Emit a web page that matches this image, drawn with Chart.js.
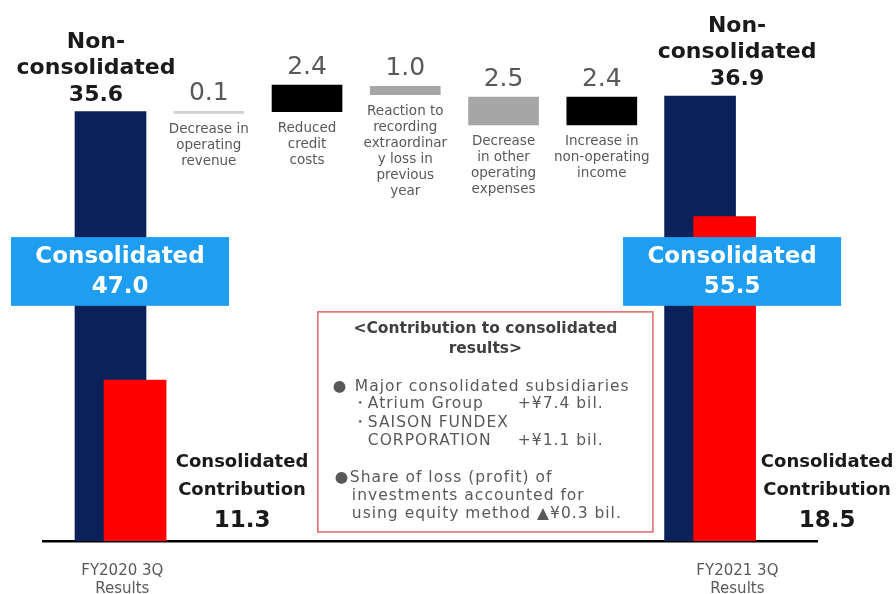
<!DOCTYPE html>
<html>
<head>
<meta charset="utf-8">
<script src="https://cdn.jsdelivr.net/npm/chart.js@4.4.1/dist/chart.umd.min.js"></script>
<style>
  html, body { margin: 0; padding: 0; background: #fff; }
</style>
</head>
<body>
<canvas id="cWf" width="896" height="594"></canvas>
<script>
/* ordinary income bridge, FY2020 3Q -> FY2021 3Q (bil. yen) */

var periods = [["FY2020 3Q", "Results"], ["FY2021 3Q", "Results"]];
var periodIndex = [0, 6];
var nonConsolidated = [35.6, 36.9];
var consolidated = [47.0, 55.5];
var contribution = [11.3, 18.5];
// red bars are schematic in the source, heights as drawn there
var contributionBar = [13.35, 26.9];

var stepValues = ["0.1", "2.4", "1.0", "2.5", "2.4"];
var stepRanges = [[35.45, 35.62], [35.6, 37.8], [37.0, 37.7], [34.5, 36.8], [34.5, 36.8]];
var stepKinds = ["small", "up", "down", "down", "up"];
var stepDesc = [
  ["Decrease in", "operating", "revenue"],
  ["Reduced", "credit", "costs"],
  ["Reaction to", "recording", "extraordinar", "y loss in", "previous", "year"],
  ["Decrease", "in other", "operating", "expenses"],
  ["Increase in", "non-operating", "income"]
];

var noteTitle = ["<Contribution to consolidated", "results>"];
var noteSubs = [["Atrium Group", "+¥7.4 bil."], ["SAISON FUNDEX", ""], ["CORPORATION", "+¥1.1 bil."]];

var KIND_COLOR = { small: "#d0d0d0", up: "#000000", down: "#a6a6a6" };
var NAVY = "#0b2159", RED = "#ff0000", SKY = "#1e9df1";

var notes = {
  id: "notes",
  afterDatasetsDraw: function(ch) {
    var c = ch.ctx, xs = ch.scales.x, ys = ch.scales.y;
    var base = ys.getPixelForValue(0);
    c.save();
    c.textAlign = "center";
    c.textBaseline = "alphabetic";

    // step values + descriptions
    stepRanges.forEach(function(r, i) {
      var x = xs.getPixelForValue(i + 1);
      var top = ys.getPixelForValue(r[1]), bot = ys.getPixelForValue(r[0]);
      c.fillStyle = "#595959";
      c.font = "25px 'DejaVu Sans'";
      c.fillText(stepValues[i], x, top - 11);
      c.font = "13.5px 'DejaVu Sans'";
      stepDesc[i].forEach(function(t, k) { c.fillText(t, x, bot + 20 + k * 16); });
    });

    // non-consolidated headers
    var hOff = [-14.5, 37];
    c.fillStyle = "#1a1a1a";
    c.font = "bold 22px 'DejaVu Sans'";
    nonConsolidated.forEach(function(v, i) {
      var x = xs.getPixelForValue(periodIndex[i]) + hOff[i];
      var y = ys.getPixelForValue(v) - 11;
      c.fillText("Non-", x, y - 53);
      c.fillText("consolidated", x, y - 26.5);
      c.fillText(v.toFixed(1), x, y);
    });

    // consolidated boxes
    var bOff = [9.5, 32];
    consolidated.forEach(function(v, i) {
      var cx = xs.getPixelForValue(periodIndex[i]) + bOff[i];
      var t = ys.getPixelForValue(25.2), b = ys.getPixelForValue(19.5);
      c.fillStyle = SKY;
      c.fillRect(cx - 109, t, 218, b - t);
      c.fillStyle = "#fff";
      c.font = "bold 23px 'DejaVu Sans'";
      c.fillText("Consolidated", cx, t + 26);
      c.fillText(v.toFixed(1), cx, t + 56);
    });

    // contribution labels
    var cOff = [131.5, 127];
    contribution.forEach(function(v, i) {
      var cx = xs.getPixelForValue(periodIndex[i]) + cOff[i];
      c.fillStyle = "#1a1a1a";
      c.font = "bold 18px 'DejaVu Sans'";
      c.fillText("Consolidated", cx, base - 74);
      c.fillText("Contribution", cx, base - 46);
      c.font = "bold 23px 'DejaVu Sans'";
      c.fillText(v.toFixed(1), cx, base - 14);
    });

    // note box
    var L = xs.getPixelForValue(2.11), R = xs.getPixelForValue(5.52);
    var T = ys.getPixelForValue(19.0), B = ys.getPixelForValue(0.75);
    c.strokeStyle = "#e06666";
    c.lineWidth = 1.5;
    c.strokeRect(L, T, R - L, B - T);
    c.fillStyle = "#404040";
    c.font = "bold 15.5px 'DejaVu Sans'";
    c.fillText(noteTitle[0], (L + R) / 2, T + 21);
    c.fillText(noteTitle[1], (L + R) / 2, T + 41);

    c.textAlign = "left";
    c.fillStyle = "#595959";
    c.font = "15.5px 'DejaVu Sans'";
    try { c.letterSpacing = "1px"; } catch (e) {}
    c.fillText("●", L + 15, T + 79);
    c.fillText("Major consolidated subsidiaries", L + 37, T + 79);
    var sy = [96, 115, 133];
    noteSubs.forEach(function(s, k) {
      if (k !== 2) c.fillText("・", L + 34, T + sy[k]);
      c.fillText(s[0], L + 50, T + sy[k]);
      if (s[1]) c.fillText(s[1], L + 200, T + sy[k]);
    });
    c.fillText("●", L + 17, T + 170);
    c.fillText("Share of loss (profit) of", L + 32, T + 170);
    c.fillText("investments accounted for", L + 34, T + 188);
    c.fillText("using equity method ▲¥0.3 bil.", L + 34, T + 206);
    c.restore();
  }
};

var ctx = document.getElementById("cWf");
var chart = new Chart(ctx, {
  type: "bar",
  data: {
    datasets: [{
      label: "Consolidated contribution",
      data: contributionBar.map(function(v, i) { return { x: periodIndex[i] + 0.25, y: v }; }),
      backgroundColor: RED,
      barThickness: 62,
      grouped: false,
      order: 1
    }, {
      label: "Non-consolidated",
      data: nonConsolidated.map(function(v, i) { return { x: periodIndex[i], y: v }; }),
      backgroundColor: NAVY,
      barThickness: 71,
      grouped: false,
      order: 2
    }, {
      label: "Change",
      data: stepRanges.map(function(r, i) { return { x: i + 1, y: r }; }),
      backgroundColor: stepKinds.map(function(k) { return KIND_COLOR[k]; }),
      barThickness: 70,
      grouped: false,
      order: 3
    }]
  },
  options: {
    responsive: false,
    animation: false,
    layout: { padding: { left: 43, right: 79, top: 0, bottom: 0 } },
    scales: {
      x: {
        type: "linear",
        min: -0.687,
        max: 7.19,
        offset: false,
        grid: { display: false, drawTicks: false },
        border: { display: true, color: "#000", width: 2.5 },
        afterBuildTicks: function(s) { s.ticks = [{ value: 0.12 }, { value: 6.38 }]; },
        afterFit: function(s) { s.height = 53; },
        ticks: {
          autoSkip: false,
          maxRotation: 0,
          minRotation: 0,
          padding: 21,
          color: "#595959",
          font: { family: "DejaVu Sans", size: 15, lineHeight: 1.2 },
          callback: function(v, i) { return periods[i]; }
        }
      },
      y: {
        display: false,
        min: 0,
        max: 44.86
      }
    },
    plugins: {
      legend: { display: false },
      tooltip: { enabled: false }
    }
  },
  plugins: [notes]
});
</script>
</body>
</html>
